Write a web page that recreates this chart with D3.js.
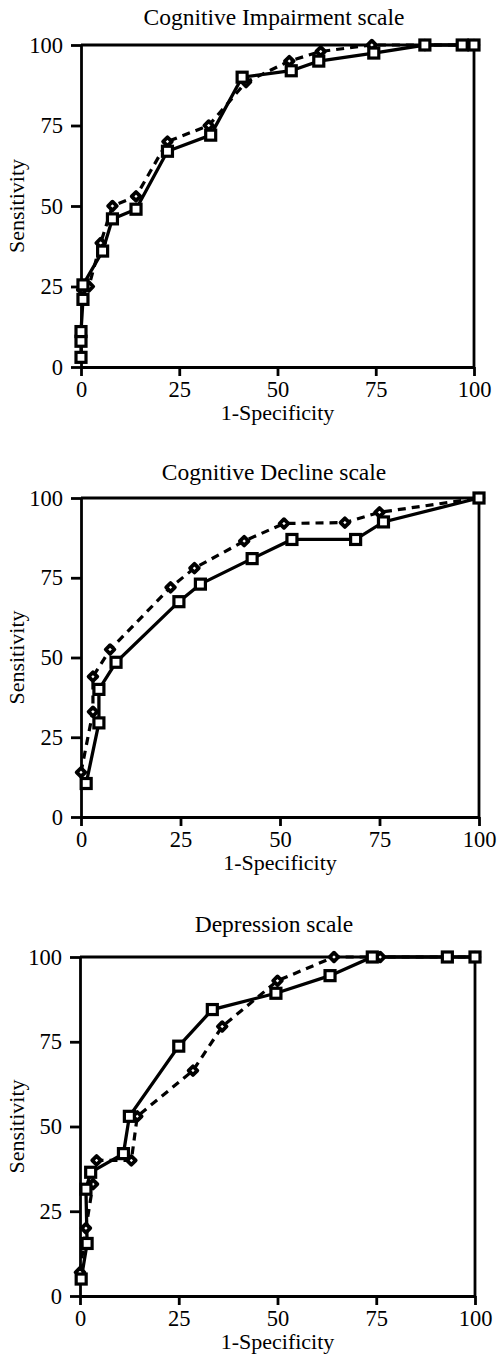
<!DOCTYPE html>
<html>
<head>
<meta charset="utf-8">
<title>ROC curves</title>
<script src="https://cdn.jsdelivr.net/npm/d3@7"></script>
<style>
  body { margin: 0; background: #fff; }
  text { font-family: "Liberation Serif", "Times New Roman", serif; fill: #000; }
</style>
</head>
<body>
<svg id="chart"></svg>
<script>
// tick values shared by all panels
const ticks = [0, 25, 50, 75, 100]
const titles = ["Cognitive Impairment scale", "Cognitive Decline scale", "Depression scale"]

// [1-specificity, sensitivity] pairs, solid line with squares
const impairmentSquares = [[0, 3], [0, 8], [0, 11], [0.5, 21], [0.5, 25.5], [5.5, 36], [8, 46], [14, 49],
  [22, 67], [33, 72], [41, 90], [53.5, 92], [60.5, 95], [74.5, 97.5], [87.5, 100], [97, 100], [100, 100]]
// dashed line with diamonds
const impairmentDiamonds = [[0.3, 24], [2, 25], [5, 38.5], [8, 50], [14, 53], [22, 70], [32.5, 75], [42, 88.5],
  [53, 95], [61, 98], [74, 100], [87.5, 100], [100, 100]]

const declineSquares = [[1.3, 10.5], [4.5, 29.5], [4.5, 40], [8.8, 48.5], [24.6, 67.5], [30, 73], [43, 81],
  [53, 87], [69, 87], [76, 92.5], [100, 100]]
const declineDiamonds = [[0, 14], [3, 33], [3, 44], [7.3, 52.5], [22.5, 72], [28.5, 78], [41, 86.5],
  [51, 92], [66.3, 92.3], [75, 95.5], [100, 100]]

const depressionSquares = [[0.3, 5], [1.8, 15.5], [1.5, 31.5], [2.7, 36.5], [11, 42], [12.5, 53], [25, 73.7],
  [33.5, 84.5], [49.6, 89.3], [63.3, 94.5], [74, 100], [93, 100], [100, 100]]
const depressionDiamonds = [[0, 7], [1.5, 20], [3.3, 33], [4.2, 40], [13, 40], [14.5, 53], [28.6, 66.5],
  [36, 79.5], [50, 93], [64.3, 100], [76, 100], [100, 100]]

const width = 497, height = 1362

const svg = d3.select("#chart")
  .attr("width", width)
  .attr("height", height)

// plot frames measured per panel (the scan is slightly skewed)
const panels = [
  { title: titles[0], squares: impairmentSquares, diamonds: impairmentDiamonds,
    left: 81, right: 474, top: 45, bottom: 367, titleY: 25 },
  { title: titles[1], squares: declineSquares, diamonds: declineDiamonds,
    left: 81, right: 479, top: 498, bottom: 817, titleY: 480 },
  { title: titles[2], squares: depressionSquares, diamonds: depressionDiamonds,
    left: 80, right: 475, top: 957, bottom: 1296, titleY: 932 }
]

panels.forEach(p => {
  const x = d3.scaleLinear().domain([0, 100]).range([p.left, p.right])
  const y = d3.scaleLinear().domain([0, 100]).range([p.bottom, p.top])
  const g = svg.append("g")

  // frame top and right
  g.append("path")
    .attr("d", `M${x(0)},${y(100)}H${x(100)}V${y(0)}`)
    .attr("fill", "none")
    .attr("stroke", "#000")
    .attr("stroke-width", 2.8)

  const xAxis = g.append("g")
    .attr("transform", `translate(0,${y(0)})`)
    .call(d3.axisBottom(x).tickValues(ticks).tickSize(9).tickPadding(5).tickSizeOuter(0))
  const yAxis = g.append("g")
    .attr("transform", `translate(${x(0)},0)`)
    .call(d3.axisLeft(y).tickValues(ticks).tickSize(10).tickPadding(8).tickSizeOuter(0))

  ;[xAxis, yAxis].forEach(a => {
    a.attr("font-family", null)
    a.select(".domain").attr("stroke-width", 2.8)
    a.selectAll(".tick line").attr("stroke-width", 2.8)
    a.selectAll(".tick text")
      .style("font-family", "Liberation Serif")
      .style("font-size", "22.5px")
  })

  g.append("text")
    .attr("x", 274)
    .attr("y", p.titleY)
    .attr("text-anchor", "middle")
    .style("font-size", "23.5px")
    .text(p.title)

  g.append("text")
    .attr("x", (p.left + p.right) / 2)
    .attr("y", p.bottom + 53)
    .attr("text-anchor", "middle")
    .style("font-size", "22px")
    .text("1-Specificity")

  g.append("text")
    .attr("transform", `translate(24,${(p.top + p.bottom) / 2}) rotate(-90)`)
    .attr("text-anchor", "middle")
    .style("font-size", "22px")
    .text("Sensitivity")

  const line = d3.line().x(d => x(d[0])).y(d => y(d[1]))

  g.append("path")
    .datum(p.diamonds)
    .attr("d", line)
    .attr("fill", "none")
    .attr("stroke", "#000")
    .attr("stroke-width", 3.2)
    .attr("stroke-dasharray", "8,6")

  g.append("path")
    .datum(p.squares)
    .attr("d", line)
    .attr("fill", "none")
    .attr("stroke", "#000")
    .attr("stroke-width", 3.3)

  g.selectAll("path.diamond")
    .data(p.diamonds)
    .enter()
    .append("path")
    .classed("diamond", true)
    .attr("d", d3.symbol(d3.symbolDiamond2, 48))
    .attr("transform", d => `translate(${x(d[0])},${y(d[1])})`)
    .attr("fill", "#fff")
    .attr("stroke", "#000")
    .attr("stroke-width", 3.8)
    .attr("stroke-linejoin", "round")

  g.selectAll("rect.square")
    .data(p.squares)
    .enter()
    .append("rect")
    .classed("square", true)
    .attr("x", d => x(d[0]) - 5)
    .attr("y", d => y(d[1]) - 5)
    .attr("width", 10)
    .attr("height", 10)
    .attr("fill", "#fff")
    .attr("stroke", "#000")
    .attr("stroke-width", 3.2)
})
</script>
</body>
</html>
